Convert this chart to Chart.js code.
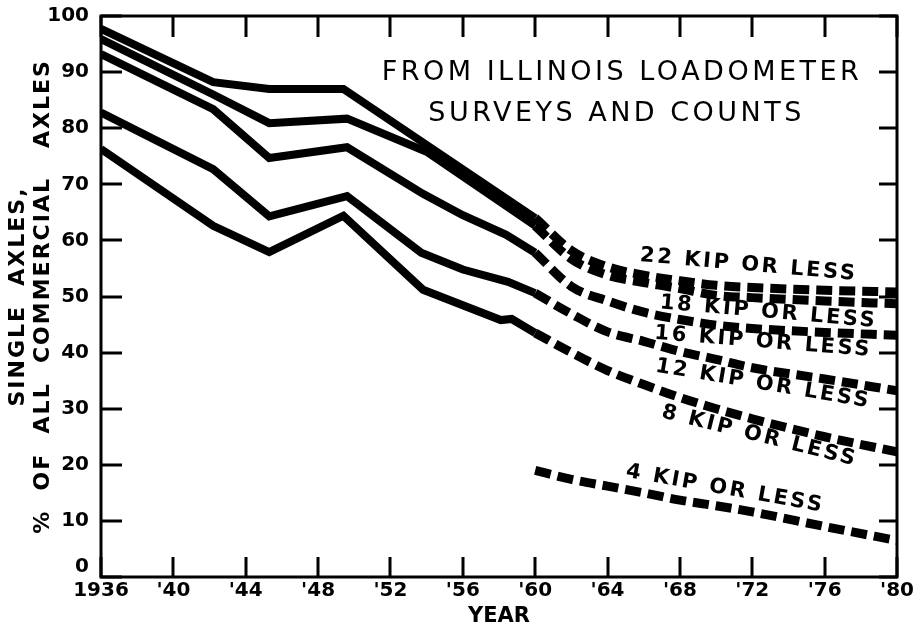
<!DOCTYPE html>
<html>
<head>
<meta charset="utf-8">
<script src="https://cdn.jsdelivr.net/npm/chart.js@4/dist/chart.umd.min.js"></script>
<style>
  html, body { margin: 0; padding: 0; background: #fff; }
  #wrap { width: 915px; height: 629px; }
</style>
</head>
<body>
<div id="wrap"><canvas id="grafico"></canvas></div>
<script>
// Datos medidos (linea continua), años y % por carga
const anos22 = [1936, 1942.2, 1945.3, 1949.4, 1960];
const kip22 = [97.7, 88.2, 87.0, 87.0, 64.0];
const anos18 = [1936, 1942.2, 1945.3, 1949.6, 1954, 1960];
const kip18 = [95.9, 86.0, 80.9, 81.7, 75.8, 62.6];
const anos16 = [1936, 1942.2, 1945.3, 1949.6, 1953.8, 1956, 1958.4, 1960];
const kip16 = [93.2, 83.4, 74.7, 76.6, 68.3, 64.5, 61.0, 57.8];
const anos12 = [1936, 1942.2, 1945.3, 1949.6, 1953.7, 1956, 1958.5, 1960];
const kip12 = [82.8, 72.7, 64.3, 67.9, 57.8, 54.8, 52.6, 50.6];
const anos8 = [1936, 1942.2, 1945.3, 1949.4, 1953.8, 1958.1, 1958.7, 1960];
const kip8 = [76.3, 62.6, 57.9, 64.4, 51.2, 45.8, 46.0, 43.5];

// Proyección (linea segmentada) 1960-1980
const anosProy = [1960, 1962, 1964, 1966, 1968, 1970, 1972, 1976, 1980];
const proy22 = [64.0, 58.2, 55.3, 53.8, 52.8, 52.0, 51.6, 51.1, 50.8];
const proy18 = [62.6, 56.7, 53.8, 52.5, 51.4, 50.2, 49.8, 49.2, 48.7];
const proy16 = [57.8, 51.8, 49.2, 47.2, 45.9, 44.9, 44.3, 43.6, 43.1];
const proy12 = [50.6, 46.9, 43.7, 42.0, 40.2, 38.8, 37.3, 35.3, 33.2];
const proy8 = [43.5, 40.0, 36.8, 34.3, 32.0, 30.0, 28.2, 25.0, 22.3];
const proy4 = [19.0, 17.4, 16.2, 15.0, 13.7, 12.7, 11.6, 9.0, 6.5];

// Etiquetas de los ejes
const ticksX = [1936, 1940, 1944, 1948, 1952, 1956, 1960, 1964, 1968, 1972, 1976, 1980];
const ticksY = [0, 10, 20, 30, 40, 50, 60, 70, 80, 90, 100];

const unir = (xs, ys) => xs.map((x, i) => ({ x, y: ys[i] }));

// serie continua
const continua = (label, xs, ys) => ({
    label, data: unir(xs, ys),
    borderColor: '#000', borderWidth: 8, pointRadius: 0,
    tension: 0, borderJoinStyle: 'miter', borderCapStyle: 'butt', clip: 0
});

// serie segmentada
const segmentada = (label, ys) => ({
    label, data: unir(anosProy, ys),
    borderColor: '#000', borderWidth: 9, pointRadius: 0,
    cubicInterpolationMode: 'monotone', borderDash: [16, 7],
    borderCapStyle: 'butt', clip: 0
});

const datasets = [
    continua('22 KIP', anos22, kip22),
    continua('18 KIP', anos18, kip18),
    continua('16 KIP', anos16, kip16),
    continua('12 KIP', anos12, kip12),
    continua('8 KIP', anos8, kip8),
    segmentada('22 KIP proy', proy22),
    segmentada('18 KIP proy', proy18),
    segmentada('16 KIP proy', proy16),
    segmentada('12 KIP proy', proy12),
    segmentada('8 KIP proy', proy8),
    segmentada('4 KIP proy', proy4)
];

// textos sobre el gráfico (en coordenadas de datos)
const etiquetas = [
    { texto: '22 KIP OR LESS', x: 1971.8, y: 55.6, ang: 5 },
    { texto: '18 KIP OR LESS', x: 1972.9, y: 47.2, ang: 5 },
    { texto: '16 KIP OR LESS', x: 1972.6, y: 41.9, ang: 4.5 },
    { texto: '12 KIP OR LESS', x: 1972.6, y: 34.4, ang: 9.5 },
    { texto: '8 KIP OR LESS', x: 1972.4, y: 25.1, ang: 14 },
    { texto: '4 KIP OR LESS', x: 1970.5, y: 15.7, ang: 10 }
];

const FUENTE = "'DejaVu Sans', sans-serif";

// marco, ticks interiores y textos
const marcoPlugin = {
    id: 'marco',
    afterDraw(chart) {
        const ctx = chart.ctx;
        const a = chart.chartArea;
        const sx = chart.scales.x;
        const sy = chart.scales.y;
        ctx.save();
        ctx.fillStyle = '#000';
        // ticks hacia adentro en los cuatro lados
        ticksX.forEach((v) => {
            const px = Math.round(sx.getPixelForValue(v));
            ctx.fillRect(px - 1.5, a.bottom - 20, 3, 20);
            ctx.fillRect(px - 1.5, a.top, 3, 21);
        });
        ticksY.forEach((v) => {
            const py = Math.round(sy.getPixelForValue(v));
            ctx.fillRect(a.left, py - 1.5, 21, 3);
            ctx.fillRect(a.right - 18, py - 1.5, 18, 3);
        });
        ctx.strokeStyle = '#000';
        ctx.lineWidth = 3;
        ctx.setLineDash([]);
        ctx.strokeRect(a.left, a.top, a.right - a.left, a.bottom - a.top);

        ctx.textAlign = 'center';
        ctx.textBaseline = 'middle';

        // titulo
        ctx.font = `27px ${FUENTE}`;
        ctx.letterSpacing = '3.5px';
        ctx.fillText('FROM ILLINOIS LOADOMETER', sx.getPixelForValue(1964.8), sy.getPixelForValue(89.8));
        ctx.fillText('SURVEYS AND COUNTS', sx.getPixelForValue(1964.5), sy.getPixelForValue(82.5));

        // etiquetas de cada curva
        ctx.font = `bold 21px ${FUENTE}`;
        ctx.letterSpacing = '2.6px';
        etiquetas.forEach((e) => {
            ctx.save();
            ctx.translate(sx.getPixelForValue(e.x), sy.getPixelForValue(e.y));
            ctx.rotate(e.ang * Math.PI / 180);
            ctx.fillText(e.texto, 0, 0);
            ctx.restore();
        });

        // titulo del eje Y (dos lineas)
        const cy = (a.top + a.bottom) / 2;
        ctx.font = `bold 22px ${FUENTE}`;
        ctx.letterSpacing = '2px';
        ctx.save();
        ctx.translate(18, cy);
        ctx.rotate(-Math.PI / 2);
        ctx.fillText('SINGLE  AXLES,', 0, 0);
        ctx.restore();
        ctx.save();
        ctx.translate(43, cy);
        ctx.rotate(-Math.PI / 2);
        ctx.fillText('%  OF  ALL  COMMERCIAL   AXLES', 0, 0);
        ctx.restore();
        ctx.restore();
    }
};

const config = {
    type: 'line',
    data: { datasets },
    options: {
        responsive: true,
        maintainAspectRatio: false,
        animation: false,
        layout: { padding: { top: 16, right: 18, left: 0, bottom: 0 } },
        plugins: { legend: { display: false }, tooltip: { enabled: false } },
        scales: {
            x: {
                type: 'linear', min: 1936, max: 1980,
                grid: { display: false },
                border: { display: false },
                afterFit: (s) => { s.height = 52; },
                ticks: {
                    stepSize: 4, autoSkip: false, maxRotation: 0, padding: -4,
                    color: '#000', font: { family: FUENTE, size: 20, weight: 'bold', lineHeight: 1 },
                    callback: (v) => (v === 1936 ? '1936' : "'" + String(v).slice(2))
                },
                title: {
                    display: true, text: 'YEAR', color: '#000',
                    font: { family: FUENTE, size: 21, weight: 'bold', lineHeight: 1 },
                    padding: { top: 0, bottom: 2 }
                }
            },
            y: {
                min: 0, max: 100,
                grid: { display: false },
                border: { display: false },
                afterFit: (s) => { s.width = 101; },
                ticks: {
                    stepSize: 10, padding: 4, color: '#000',
                    font: { family: FUENTE, size: 20, weight: 'bold', lineHeight: 1 },
                    callback: (v) => (v === 0 ? ['0', ''] : v)
                }
            }
        }
    },
    plugins: [marcoPlugin]
};

const grafico = new Chart(document.getElementById('grafico'), config);
</script>
</body>
</html>
